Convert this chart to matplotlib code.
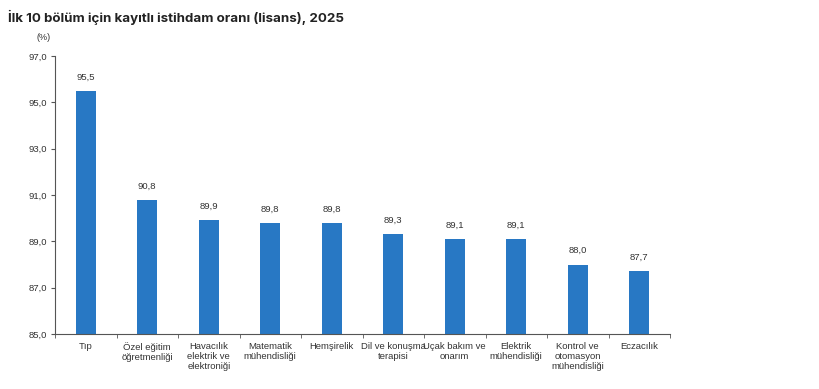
import matplotlib
matplotlib.use("Agg")
import matplotlib.pyplot as plt
import numpy as np

categories = ["Tıp", "Özel eğitim\nöğretmenliği", "Havacılık\nelektrik ve\nelektroniği",
              "Matematik\nmühendisliği", "Hemşirelik", "Dil ve konuşma\nterapisi",
              "Uçak bakım ve\nonarım", "Elektrik\nmühendisliği",
              "Kontrol ve\notomasyon\nmühendisliği", "Eczacılık"]
values = [95.5, 90.8, 89.9, 89.8, 89.8, 89.3, 89.1, 89.1, 88.0, 87.7]
yticks = [85.0, 87.0, 89.0, 91.0, 93.0, 95.0, 97.0]

plt.rcParams['font.family'] = ['Liberation Sans', 'DejaVu Sans']
fig = plt.figure(figsize=(8.2, 3.89), dpi=100)
ax = fig.add_axes([55/820, 1-334/389, 615/820, (334-56)/389])

x = np.arange(len(categories))
bar_color = "#2878C4"
ax.bar(x, values, width=0.33, color=bar_color, zorder=2)
for xi, v in zip(x, values):
    ax.text(xi, v + 0.4, f"{v:.1f}".replace(".", ","), ha="center", va="bottom",
            fontsize=6.8, color="#333333")

ax.set_xlim(-0.5, len(categories) - 0.5)
ax.set_ylim(85, 97)
ax.set_yticks(yticks)
ax.set_yticklabels([f"{t:.1f}".replace(".", ",") for t in yticks], fontsize=6.8, color="#333333")
ax.set_xticks(x)
ax.set_xticklabels(categories, fontsize=6.8, color="#333333", linespacing=1.1)
ax.tick_params(axis="x", length=0, pad=6)
ax.set_xticks(np.arange(-0.5, len(categories)), minor=True)
ax.tick_params(axis="x", which="minor", length=3, color="#555555", direction="out")
ax.tick_params(axis="y", length=3, color="#555555", direction="out", pad=3)

for s in ["top", "right"]:
    ax.spines[s].set_visible(False)
for s in ["left", "bottom"]:
    ax.spines[s].set_color("#555555")
    ax.spines[s].set_linewidth(0.8)

fig.text(8/820, 1-17/389, "İlk 10 bölüm için kayıtlı istihdam oranı (lisans), 2025",
         fontsize=9.6, fontweight="bold", color="#222222", va="center", ha="left",
         family=["Inter", "DejaVu Sans"])
fig.text(44/820, 1-37/389, "(%)", fontsize=6.5, color="#333333", ha="center", va="center")

fig.savefig("out.png", dpi=100)
